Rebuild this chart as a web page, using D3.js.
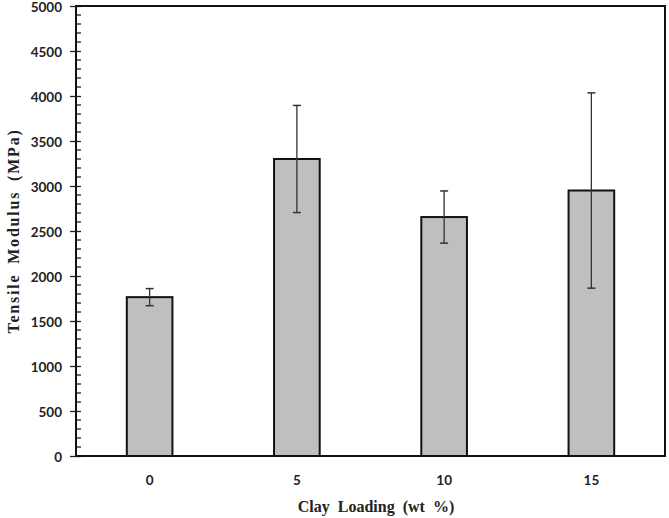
<!DOCTYPE html>
<html>
<head>
<meta charset="utf-8">
<script src="https://cdn.jsdelivr.net/npm/d3@7"></script>
<style>
  body { margin: 0; background: #fff; }
  svg { display: block; }
</style>
</head>
<body>
<div id="chart"></div>
<script>
// data
var categories = ["0", "5", "10", "15"];
var modulus = [1765, 3300, 2655, 2950];
var errors = [95, 595, 290, 1085];
var yTicks = [0, 500, 1000, 1500, 2000, 2500, 3000, 3500, 4000, 4500, 5000];

var W = 669, H = 518;
var margin = { left: 76, right: 4, top: 6, bottom: 62 };

var svg = d3.select("#chart").append("svg")
    .attr("width", W)
    .attr("height", H);

var x = d3.scaleBand()
    .domain(categories)
    .range([margin.left, W - margin.right])
    .paddingInner(0.69)
    .paddingOuter(0.345);

var y = d3.scaleLinear()
    .domain([0, 5000])
    .range([H - margin.bottom, margin.top]);

// minor ticks (inside)
var minor = d3.range(0, 5001, 100).filter(function (v) { return v % 500 != 0; });
svg.append("g").selectAll("line")
    .data(minor)
    .enter().append("line")
    .attr("x1", margin.left)
    .attr("x2", margin.left + 5)
    .attr("y1", function (d) { return y(d); })
    .attr("y2", function (d) { return y(d); })
    .attr("stroke", "#222")
    .attr("stroke-width", 1.3);

// y axis
var yAxis = svg.append("g")
    .attr("transform", "translate(" + margin.left + ",0)")
    .call(d3.axisLeft(y).tickValues(yTicks).tickSize(6).tickFormat(d3.format("d")));
yAxis.select(".domain").remove();
yAxis.selectAll(".tick line")
    .attr("x2", 5)
    .attr("x1", -6)
    .attr("stroke", "#222")
    .attr("stroke-width", 1.3);
yAxis.selectAll(".tick text")
    .attr("x", -14)
    .attr("dy", "0.4em")
    .attr("fill", "#222")
    .style("font-family", "Lato, 'Open Sans', sans-serif")
    .style("font-weight", "bold")
    .style("font-size", "13.5px");

// bars
svg.append("g").selectAll("rect")
    .data(modulus)
    .enter().append("rect")
    .attr("x", function (d, i) { return x(categories[i]); })
    .attr("y", function (d) { return y(d); })
    .attr("width", x.bandwidth())
    .attr("height", function (d) { return y(0) - y(d); })
    .attr("fill", "#bfbfbf")
    .attr("stroke", "#111")
    .attr("stroke-width", 2);

// error bars
var eb = svg.append("g").selectAll("g")
    .data(modulus)
    .enter().append("g");
eb.append("line")
    .attr("x1", function (d, i) { return x(categories[i]) + x.bandwidth() / 2; })
    .attr("x2", function (d, i) { return x(categories[i]) + x.bandwidth() / 2; })
    .attr("y1", function (d, i) { return y(d - errors[i]); })
    .attr("y2", function (d, i) { return y(d + errors[i]); })
    .attr("stroke", "#333")
    .attr("stroke-width", 1.3);
[-1, 1].forEach(function (s) {
    eb.append("line")
        .attr("x1", function (d, i) { return x(categories[i]) + x.bandwidth() / 2 - 4; })
        .attr("x2", function (d, i) { return x(categories[i]) + x.bandwidth() / 2 + 4; })
        .attr("y1", function (d, i) { return y(d + s * errors[i]); })
        .attr("y2", function (d, i) { return y(d + s * errors[i]); })
        .attr("stroke", "#333")
        .attr("stroke-width", 1.5);
});

// plot frame
svg.append("rect")
    .attr("x", margin.left)
    .attr("y", margin.top)
    .attr("width", W - margin.right - margin.left)
    .attr("height", H - margin.bottom - margin.top)
    .attr("fill", "none")
    .attr("stroke", "#111")
    .attr("stroke-width", 2);

// x axis labels
var xAxis = svg.append("g")
    .attr("transform", "translate(0," + (H - margin.bottom) + ")")
    .call(d3.axisBottom(x).tickSize(0));
xAxis.select(".domain").remove();
xAxis.selectAll(".tick text")
    .attr("y", 19)
    .attr("fill", "#222")
    .style("font-family", "Lato, 'Open Sans', sans-serif")
    .style("font-weight", "bold")
    .style("font-size", "13.5px");

// axis titles
svg.append("text")
    .attr("x", 376)
    .attr("y", 512)
    .attr("text-anchor", "middle")
    .style("font-family", "'Liberation Serif', 'Times New Roman', serif")
    .style("font-weight", "bold")
    .style("font-size", "16px")
    .style("word-spacing", "4px")
    .attr("fill", "#222")
    .text("Clay Loading (wt %)");

svg.append("text")
    .attr("transform", "translate(19," + ((margin.top + H - margin.bottom) / 2) + ") rotate(-90)")
    .attr("text-anchor", "middle")
    .style("font-family", "'Liberation Serif', 'Times New Roman', serif")
    .style("font-weight", "bold")
    .style("font-size", "16px")
    .style("letter-spacing", "1.8px")
    .style("word-spacing", "4px")
    .attr("fill", "#222")
    .text("Tensile Modulus (MPa)");
</script>
</body>
</html>
